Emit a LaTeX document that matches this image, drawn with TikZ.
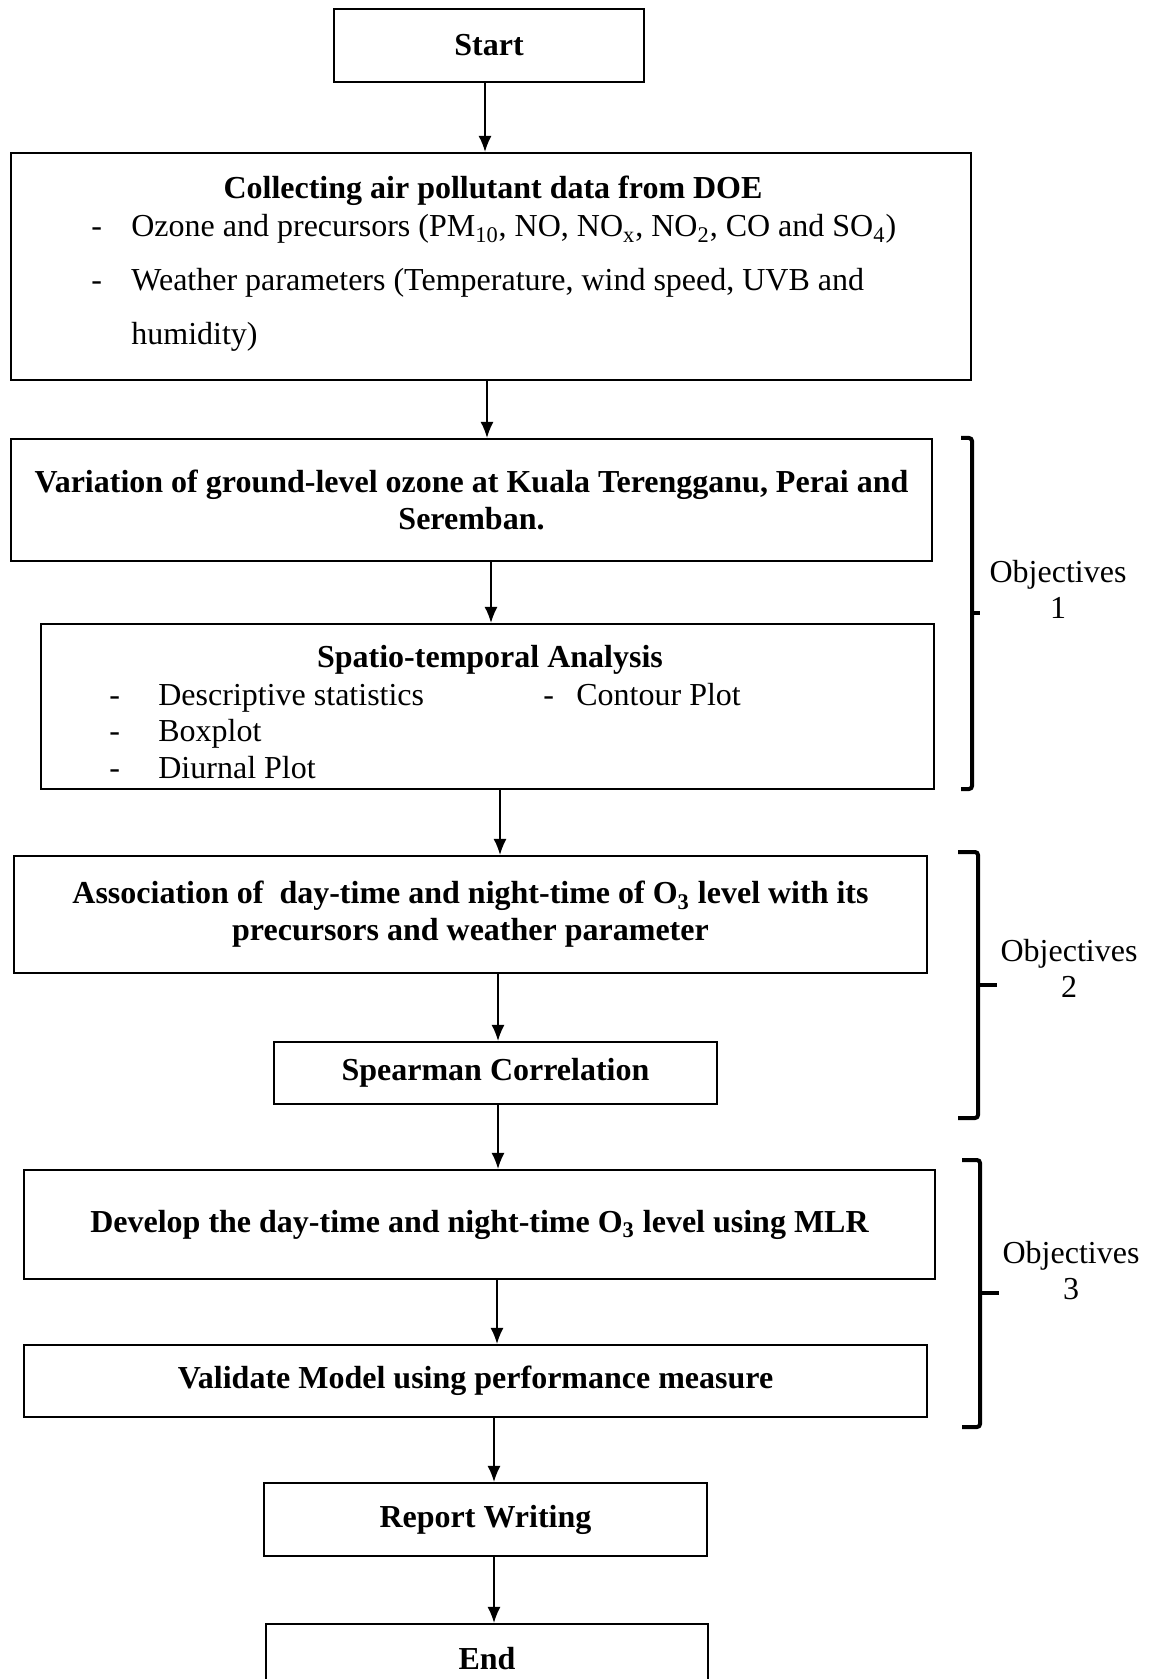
\documentclass[tikz,border=0pt]{standalone}
\usepackage{fontspec}
\setmainfont{Liberation Serif}
\usetikzlibrary{arrows.meta}

\begin{document}
\begin{tikzpicture}[
    x=0.5pt, y=-0.5pt,
    box/.style={draw=black, line width=1.2pt, inner sep=0pt, align=center, font=\fontsize{16}{18.5}\selectfont\bfseries},
    item/.style={inner sep=0pt, anchor=base west, font=\fontsize{16}{18.5}\selectfont},
    title/.style={inner sep=0pt, anchor=base, font=\fontsize{16}{18.5}\selectfont\bfseries},
    arrow/.style={-{Latex[length=8pt,width=6.5pt]}, line width=0.6pt, black},
    brace/.style={line width=2pt, black, rounded corners=1.5pt},
    objlabel/.style={inner sep=0pt, align=center, font=\fontsize{16}{18}\selectfont}
  ]
    \useasboundingbox[fill=white] (0,0) rectangle (1149,1679);

    % Main flow boxes (top to bottom)
    \node[box, minimum width=155pt, minimum height=36.5pt] (start) at (489,45.5) {Start};
    \node[box, minimum width=480pt, minimum height=113.5pt] (collect) at (491,266.5) {};
    \node[box, minimum width=460.5pt, minimum height=61pt] (variation) at (471.5,500)
      {Variation of ground-level ozone at Kuala Terengganu, Perai and\\Seremban.};
    \node[box, minimum width=446.5pt, minimum height=82.5pt] (spatio) at (487.5,706.5) {};
    \node[box, minimum width=456.5pt, minimum height=58.5pt] (assoc) at (470.5,914.5)
      {Association of~ day-time and night-time of O\textsubscript{3} level with its\\precursors and weather parameter};
    \node[box, minimum width=221.5pt, minimum height=31pt] (spearman) at (495.5,1073) {Spearman Correlation};
    \node[box, minimum width=455.5pt, minimum height=54.5pt] (develop) at (479.5,1224.5)
      {Develop the day-time and night-time O\textsubscript{3} level using MLR};
    \node[box, minimum width=451.5pt, minimum height=36pt] (validate) at (475.5,1381) {Validate Model using performance measure};
    \node[box, minimum width=221.5pt, minimum height=36.5pt] (report) at (485.5,1519.5) {Report Writing};
    \node[box, minimum width=221pt, minimum height=35pt] (endbox) at (487,1659) {End};

    % Contents of the data collection box
    \node[title] (collect-title) at (493,199) {Collecting air pollutant data from DOE};
    \node[item] (collect-a) at (91,237) {\makebox[20pt][l]{-}Ozone and precursors (PM\textsubscript{10}, NO, NO\textsubscript{x}, NO\textsubscript{2}, CO and SO\textsubscript{4})};
    \node[item] (collect-b) at (91,291) {\makebox[20pt][l]{-}Weather parameters (Temperature, wind speed, UVB and};
    \node[item] (collect-c) at (131,345) {humidity)};

    % Contents of the analysis box
    \node[title] (spatio-title) at (490,667) {Spatio-temporal Analysis};
    \node[item] (spatio-a) at (109,705) {\makebox[24.5pt][l]{-}Descriptive statistics};
    \node[item] (spatio-b) at (543,705) {\makebox[16.5pt][l]{-}Contour Plot};
    \node[item] (spatio-c) at (109,741) {\makebox[24.5pt][l]{-}Boxplot};
    \node[item] (spatio-d) at (109,778) {\makebox[24.5pt][l]{-}Diurnal Plot};

    % Connectors
    \draw[arrow] ([xshift=-2pt]start.south) -- ([xshift=-2pt]start.south |- collect.north);
    \draw[arrow] ([xshift=-2pt]collect.south) -- ([xshift=-2pt]collect.south |- variation.north);
    \draw[arrow] ([xshift=9.75pt]variation.south) -- ([xshift=9.75pt]variation.south |- spatio.north);
    \draw[arrow] ([xshift=6.25pt]spatio.south) -- ([xshift=6.25pt]spatio.south |- assoc.north);
    \draw[arrow] ([xshift=13.75pt]assoc.south) -- ([xshift=13.75pt]assoc.south |- spearman.north);
    \draw[arrow] ([xshift=1.25pt]spearman.south) -- ([xshift=1.25pt]spearman.south |- develop.north);
    \draw[arrow] ([xshift=8.75pt]develop.south) -- ([xshift=8.75pt]develop.south |- validate.north);
    \draw[arrow] ([xshift=9.25pt]validate.south) -- ([xshift=9.25pt]validate.south |- report.north);
    \draw[arrow] ([xshift=4.25pt]report.south) -- ([xshift=4.25pt]report.south |- endbox.north);

    % Objective brackets
    \draw[brace] (961,438) -- (972,438) -- (972,789) -- (961,789);
    \draw[brace] (972,613) -- (980,613);
    \draw[brace] (958,852) -- (978,852) -- (978,1118) -- (958,1118);
    \draw[brace] (978,985) -- (997,985);
    \draw[brace] (962,1160) -- (980,1160) -- (980,1427) -- (962,1427);
    \draw[brace] (980,1293) -- (999,1293);

    \node[objlabel] (obj1) at (1058,589) {Objectives\\1};
    \node[objlabel] (obj2) at (1069,968) {Objectives\\2};
    \node[objlabel] (obj3) at (1071,1271) {Objectives\\3};

  \end{tikzpicture}
\end{document}
